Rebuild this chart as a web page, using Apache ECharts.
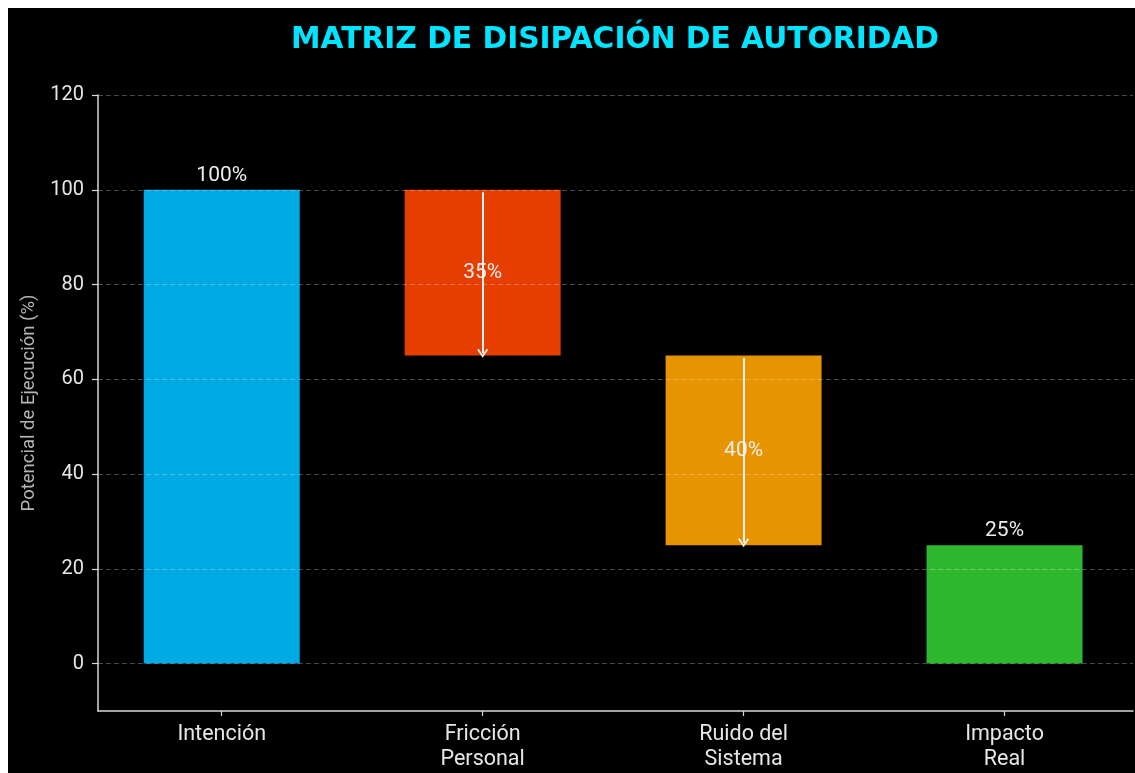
<!DOCTYPE html>
<html>
<head>
<meta charset="utf-8">
<script src="https://cdn.jsdelivr.net/npm/echarts@6/dist/echarts.min.js"></script>
<style>
  html, body { margin: 0; padding: 0; background: #ffffff; width: 1135px; height: 773px; overflow: hidden; }
  #chart { position: absolute; left: 8px; top: 8px; width: 1127px; height: 765px; background: #000000; }
</style>
</head>
<body>
<div id="chart"></div>
<script>
const categories = ['Intención', 'Fricción\nPersonal', 'Ruido del\nSistema', 'Impacto\nReal'];
const baseValues = [0, 65, 25, 0];
const barValues = [100, 35, 40, 25];
const barLabels = ['100%', '35%', '40%', '25%'];
const barColors = ['#00aae4', '#e53e00', '#e69500', '#2db82e'];
const labelInside = [false, true, true, false];
const yTicks = [0, 20, 40, 60, 80, 100, 120];
const yMin = -10, yMax = 120;

const FONT = 'Roboto';
const chart = echarts.init(document.getElementById('chart'), null, { renderer: 'canvas' });

const arrowPath = 'path://M5,0 L10,9 L8.6,10 L5,3.4 L1.4,10 L0,9 Z';
const arrows = [];
barValues.forEach((v, i) => {
  if (labelInside[i]) {
    arrows.push([
      { coord: [i, baseValues[i] + v - 0.5] },
      { coord: [i, baseValues[i] + 0.5] }
    ]);
  }
});

const option = {
  backgroundColor: '#000000',
  animation: false,
  title: {
    text: 'MATRIZ DE DISIPACIÓN DE AUTORIDAD',
    left: 278,
    top: 12,
    textStyle: { fontFamily: 'DejaVu Sans', fontWeight: 'bold', fontSize: 29.7, color: '#00e5ff' }
  },
  grid: [
    { left: 83.25, width: 1046, top: 87, bottom: 62 },
    { left: 90, right: 2, top: 87, bottom: 62 }
  ],
  xAxis: [
    {
      type: 'category', gridIndex: 0, data: categories,
      axisLine: { show: false, onZero: false },
      axisTick: { show: true, alignWithLabel: true, length: 5, lineStyle: { color: '#d8d8d8', width: 1.2 } },
      axisLabel: { color: '#e6e6e6', fontFamily: FONT, fontSize: 21.5, lineHeight: 25, margin: 11 },
      splitLine: { show: false }
    },
    {
      type: 'value', gridIndex: 1, min: 0, max: 1,
      axisLine: { show: true, onZero: false, lineStyle: { color: '#d8d8d8', width: 1.5 } },
      axisTick: { show: false }, axisLabel: { show: false }, splitLine: { show: false }
    }
  ],
  yAxis: [
    { type: 'value', gridIndex: 0, min: yMin, max: yMax, show: false },
    {
      type: 'value', gridIndex: 1, min: yMin, max: yMax, z: 5,
      name: 'Potencial de Ejecución (%)', nameLocation: 'middle', nameGap: 59,
      nameTextStyle: { color: '#b4b4b4', fontFamily: FONT, fontSize: 18.5 },
      axisLine: { show: true, onZero: false, lineStyle: { color: '#d8d8d8', width: 1.5 } },
      axisTick: { show: true, length: 6, customValues: yTicks, lineStyle: { color: '#d8d8d8', width: 1.2 } },
      axisLabel: { color: '#e6e6e6', fontFamily: FONT, fontSize: 20, margin: 14, customValues: yTicks },
      splitLine: { show: true, lineStyle: { color: 'rgba(255,255,255,0.28)', width: 1, type: [5, 3] } }
    }
  ],
  series: [
    {
      type: 'bar', xAxisIndex: 0, yAxisIndex: 0, stack: 'w', barWidth: 156,
      itemStyle: { color: 'transparent' }, silent: true,
      data: baseValues
    },
    {
      type: 'bar', xAxisIndex: 0, yAxisIndex: 0, stack: 'w', barWidth: 156,
      data: barValues.map((v, i) => ({
        value: v,
        itemStyle: { color: barColors[i] },
        label: {
          show: true,
          position: labelInside[i] ? 'inside' : 'top',
          distance: 4,
          formatter: barLabels[i],
          color: '#ececec', fontFamily: FONT, fontSize: 21
        }
      })),
      markLine: {
        silent: true,
        symbol: ['none', arrowPath],
        symbolSize: [11, 9],
        label: { show: false },
        lineStyle: { color: '#f2f2f2', width: 2, type: 'solid' },
        data: arrows
      }
    }
  ]
};
chart.setOption(option);
</script>
</body>
</html>
